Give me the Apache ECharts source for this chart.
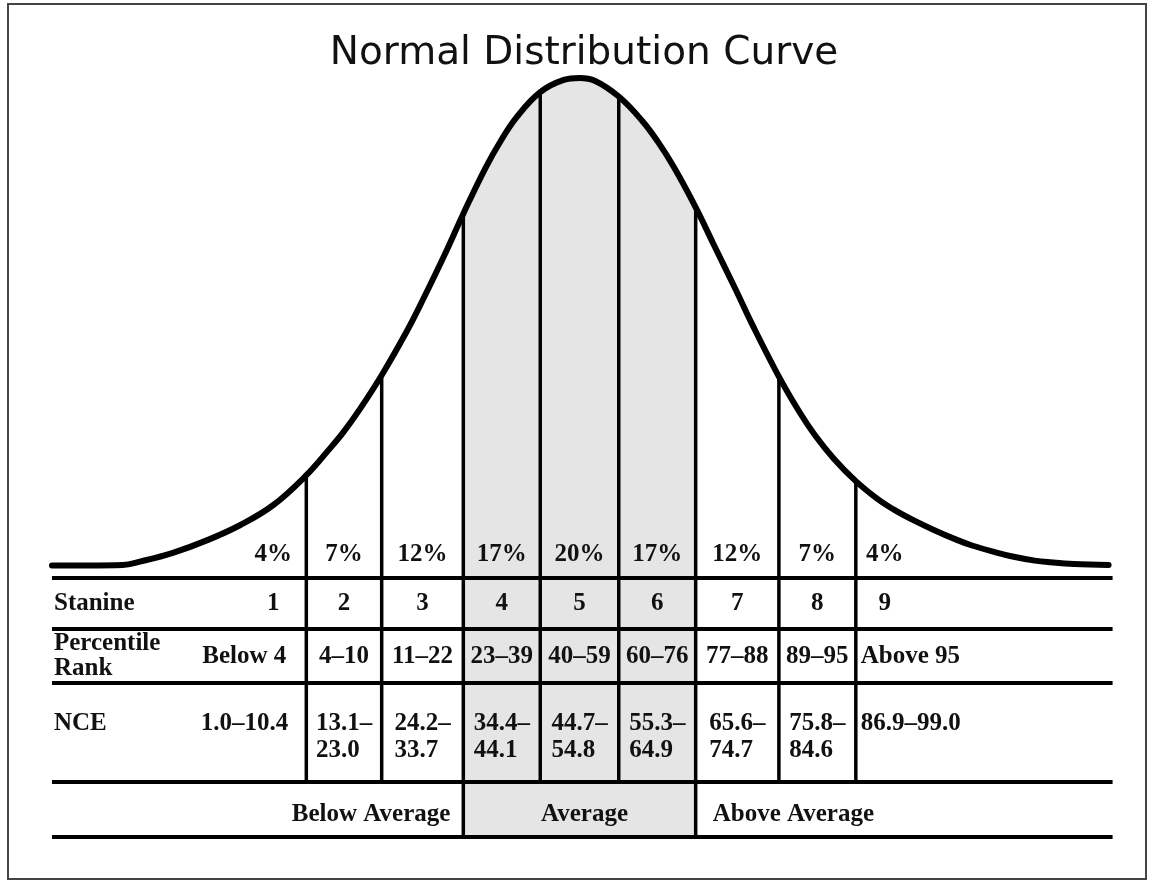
<!DOCTYPE html>
<html><head><meta charset="utf-8">
<script src="https://cdn.jsdelivr.net/npm/echarts@6/dist/echarts.min.js"></script>
<style>html,body{margin:0;padding:0;background:#fff}#c{width:1152px;height:882px}</style>
</head><body><div id="c"></div>
<script>
// Curve: x in standard deviations, y as height relative to the peak
const curveX = [-3.36,-3.12,-2.91,-2.80,-2.59,-2.37,-2.16,-1.95,-1.74,-1.60,-1.50,-1.40,-1.26,-1.10,-1.00,-0.85,-0.74,-0.60,-0.50,-0.40,-0.25,-0.10,0.00,0.10,0.25,0.40,0.50,0.60,0.74,0.85,1.00,1.10,1.27,1.40,1.50,1.62,1.76,1.90,2.00,2.12,2.25,2.40,2.50,2.65,2.75,2.90,3.00,3.15,3.37];
const curveY = [0.001,0.001,0.002,0.009,0.027,0.053,0.084,0.125,0.186,0.237,0.276,0.321,0.391,0.481,0.544,0.644,0.722,0.815,0.872,0.920,0.971,0.996,1.000,0.994,0.962,0.912,0.869,0.818,0.735,0.662,0.563,0.495,0.388,0.316,0.268,0.220,0.174,0.137,0.116,0.095,0.075,0.054,0.042,0.028,0.020,0.011,0.0075,0.004,0.002];
// Stanine band boundaries (same units as curveX)
const boundaries = [-1.74,-1.26,-0.74,-0.25,0.25,0.74,1.27,1.76];
const shares = ['4%','7%','12%','17%','20%','17%','12%','7%','4%'];
const stanines = ['1','2','3','4','5','6','7','8','9'];
const percentileRanks = ['Below 4','4–10','11–22','23–39','40–59','60–76','77–88','89–95','Above 95'];
const nceRanges = ['1.0–10.4','13.1–\n23.0','24.2–\n33.7','34.4–\n44.1','44.7–\n54.8','55.3–\n64.9','65.6–\n74.7','75.8–\n84.6','86.9–99.0'];
const rowLabels = ['Stanine','Percentile\nRank','NCE'];
const groupLabels = ['Below Average','Average','Above Average'];
const averageBand = [2,5]; // boundary indices enclosing the shaded "Average" band
const titleText = 'Normal Distribution Curve';

const FONT = {fontFamily:'Liberation Serif', fontWeight:'bold', fontSize:25, fill:'#111'};
const GRAY = '#e5e5e5';

function txt(text, x, y, align, vAlign, lh){
  return {type:'text', silent:true, style:Object.assign({text:text, x:x, y:y, align:align, verticalAlign:vAlign, lineHeight:lh||27}, FONT)};
}
function seg(x1,y1,x2,y2,w){
  return {type:'line', silent:true, shape:{x1:x1,y1:y1,x2:x2,y2:y2}, style:{stroke:'#000', lineWidth:w}};
}

function buildTable(api){
  const px = v => api.coord([v,0])[0];
  const py = v => api.coord([0,v])[1];
  const hAt = v => curveY[curveX.indexOf(v)];
  const bx = boundaries.map(px);
  const left = px(curveX[0]);
  const right = px(curveX[curveX.length-1]) + 4;
  const rowY = [578, 629, 683, 782, 837];
  const ch = [];
  const a = boundaries[averageBand[0]], b = boundaries[averageBand[1]];
  const poly = [];
  curveX.forEach((v,i)=>{ if (v >= a && v <= b) poly.push(api.coord([v, curveY[i]])); });
  poly.push([bx[averageBand[1]], rowY[4]]);
  poly.push([bx[averageBand[0]], rowY[4]]);
  ch.push({type:'polygon', silent:true, shape:{points:poly}, style:{fill:GRAY}});
  boundaries.forEach((v,i)=>{
    const bottom = (i===averageBand[0] || i===averageBand[1]) ? rowY[4] : rowY[3];
    ch.push(seg(bx[i], py(hAt(v)), bx[i], bottom, 3.5));
  });
  rowY.forEach(y=>ch.push(seg(left, y, right, y, 4)));
  const n = shares.length;
  const centers = [];
  for (let j=0;j<n;j++){
    if (j===0) centers.push(bx[0]-33);
    else if (j===n-1) centers.push(bx[n-2]+29);
    else centers.push((bx[j-1]+bx[j])/2);
  }
  for (let j=0;j<n;j++){
    ch.push(txt(shares[j], centers[j], 555, 'center', 'middle'));
    ch.push(txt(stanines[j], centers[j], 603.5, 'center', 'middle'));
    if (j===0){
      ch.push(txt(percentileRanks[j], bx[0]-20, 657, 'right', 'middle'));
      ch.push(txt(nceRanges[j], bx[0]-18, 724, 'right', 'middle'));
    } else if (j===n-1){
      ch.push(txt(percentileRanks[j], bx[n-2]+5, 657, 'left', 'middle'));
      ch.push(txt(nceRanges[j], bx[n-2]+5, 724, 'left', 'middle'));
    } else {
      ch.push(txt(percentileRanks[j], centers[j], 657, 'center', 'middle'));
      ch.push(txt(nceRanges[j], centers[j]-28, 710.5, 'left', 'top', 27));
    }
  }
  ch.push(txt(rowLabels[0], left+2, 603.5, 'left', 'middle'));
  ch.push(txt(rowLabels[1], left+2, 631.5, 'left', 'top', 25));
  ch.push(txt(rowLabels[2], left+2, 724, 'left', 'middle'));
  const ga = bx[averageBand[0]], gb = bx[averageBand[1]];
  ch.push(txt(groupLabels[0], ga-13, 815, 'right', 'middle'));
  ch.push(txt(groupLabels[1], (ga+gb)/2+5, 815, 'center', 'middle'));
  ch.push(txt(groupLabels[2], gb+17, 815, 'left', 'middle'));
  return ch;
}

const chart = echarts.init(document.getElementById('c'), null, {renderer:'canvas'});
chart.setOption({
  animation:false,
  backgroundColor:'#fff',
  title:{text:titleText, left:579, top:29, textAlign:'center',
    textStyle:{fontFamily:'DejaVu Sans', fontSize:39, fontWeight:'normal', color:'#111'}},
  graphic:[{type:'rect', silent:true, shape:{x:8,y:4,width:1138,height:875},
    style:{fill:'none', stroke:'#444', lineWidth:2}, z:-1}],
  grid:{left:45.7, right:38.7, top:78, bottom:316},
  xAxis:{type:'value', min:-3.4, max:3.4, show:false},
  yAxis:{type:'value', min:0, max:1, show:false},
  series:[
    {type:'custom', coordinateSystem:'cartesian2d', data:[[0,0]], z:1, silent:true, clip:false,
      renderItem:(params, api)=>({type:'group', children:buildTable(api)})},
    {type:'line', data:curveX.map((v,i)=>[v,curveY[i]]), smooth:0.4,
      showSymbol:false, lineStyle:{color:'#000', width:6, cap:'round', join:'round'}, z:3, silent:true}
  ]
});
</script>
</body></html>
